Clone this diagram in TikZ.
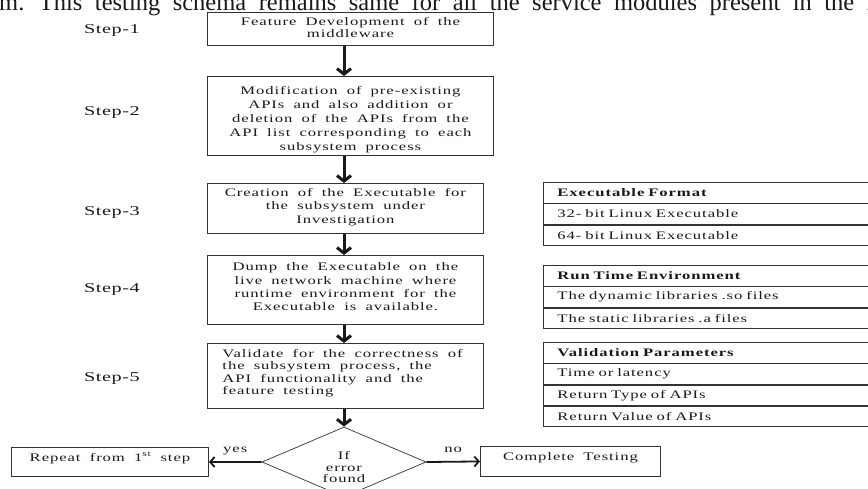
\documentclass[tikz,border=0pt]{standalone}
\usepackage{fontspec}
\setmainfont{Liberation Serif}
% widened serif faces used inside the flowchart
\newfontfamily\diafont[FakeStretch=1.45,LetterSpace=8,WordSpace=1.8]{Liberation Serif}
\newfontfamily\stepfont[FakeStretch=1.5,LetterSpace=4,WordSpace=1.5]{Liberation Serif}
\usetikzlibrary{arrows.meta,shapes.geometric}

% box body: width, height, top gap, baselineskip, text
\newcommand\boxbody[5]{\parbox[c][#2][t]{#1}{\fontsize{11.5}{#4}\selectfont\centering\vspace*{#3}#5\par}}
\newcommand\leftbody[5]{\parbox[c][#2][t]{#1}{\fontsize{11.5}{#4}\selectfont\raggedright\leftskip=15pt\vspace*{#3}#5\par}}

\begin{document}
\begin{tikzpicture}[x=1pt,y=-1pt,
  every node/.style={inner sep=0pt, text=black!90},
  procbox/.style={draw=black!80, line width=0.9pt, anchor=north west, font=\diafont},
  steplbl/.style={anchor=base west, font=\stepfont\fontsize{13.5}{15}\selectfont},
  rowbox/.style={draw=black!80, line width=0.8pt, anchor=north west, text width=310pt,
                 inner xsep=14pt, inner ysep=0pt, minimum height=20.5pt, align=left,
                 font=\diafont\fontsize{11.5}{13}\selectfont},
  flowarrow/.style={line width=3pt, -{Straight Barb[length=5.5pt,width=14pt]}, black!90},
  sidearrow/.style={line width=1.8pt, -{Straight Barb[length=4.5pt,width=10pt]}, black!90},
  arrowlbl/.style={anchor=base, yshift=9pt, font=\diafont\fontsize{11.5}{13}\selectfont}]
\useasboundingbox (0,0) rectangle (868,488);
\clip (0,0) rectangle (868,488);

% running text of the page above the figure
\node[anchor=base west, font=\fontsize{24.5}{28}\selectfont] (pagetext) at (-1,10.5)
  {\spaceskip=12.5pt m. This testing schema remains same for all the service modules present in the middleware};

% step labels
\node[steplbl] (l1) at (84,33)  {Step-1};
\node[steplbl] (l2) at (84,115) {Step-2};
\node[steplbl] (l3) at (84,215) {Step-3};
\node[steplbl] (l4) at (84,292) {Step-4};
\node[steplbl] (l5) at (84,381) {Step-5};

% process boxes
\node[procbox] (s1) at (207,12)
  {\boxbody{286pt}{33pt}{4.5pt}{12.5pt}{Feature Development of the\\ middleware}};
\node[procbox] (s2) at (207,76)
  {\boxbody{286pt}{79pt}{9.5pt}{14pt}{Modification of pre-existing\\ APIs and also addition or\\ deletion of the APIs from the\\ API list corresponding to each\\ subsystem process}};
\node[procbox] (s3) at (207,183)
  {\boxbody{276pt}{50pt}{4.5pt}{13.5pt}{Creation of the Executable for\\ the subsystem under\\ Investigation}};
\node[procbox] (s4) at (207,255)
  {\boxbody{276pt}{69pt}{7.5pt}{13.3pt}{Dump the Executable on the\\ live network machine where\\ runtime environment for the\\ Executable is available.}};
\node[procbox] (s5) at (207,343)
  {\leftbody{276pt}{65pt}{5.5pt}{12.5pt}{Validate for the correctness of\\ the subsystem process, the\\ API functionality and the\\ feature testing}};

% decision
\node[draw=black!80, line width=0.7pt, diamond, minimum width=164pt, minimum height=70pt] (dec) at (344,462) {};
\node[align=center, font=\diafont\fontsize{11.5}{12}\selectfont] (dectext) at (344,467) {If\\ error\\ found};

% outcome boxes
\node[procbox] (rep) at (11,447)
  {\boxbody{197pt}{29pt}{5pt}{13pt}{Repeat from 1\textsuperscript{st} step}};
\node[procbox] (done) at (480,446)
  {\boxbody{180pt}{30pt}{6.5pt}{13pt}{Complete Testing}};

% main flow
\draw[flowarrow] (s1.south -| dec) -- (s2.north -| dec);
\draw[flowarrow] (s2.south -| dec) -- (s3.north -| dec);
\draw[flowarrow] (s3.south -| dec) -- (s4.north -| dec);
\draw[flowarrow] (s4.south -| dec) -- (s5.north -| dec);
\draw[flowarrow] (s5.south -| dec) -- (dec.north);
\draw[sidearrow] (dec.west) -- node[arrowlbl] (yes) {yes} (rep.east);
\draw[sidearrow] (dec.east) -- node[arrowlbl] (no) {no} (done.west);

% side tables
\node[rowbox] (t1a) at (543,182) {\bfseries Executable Format};
\node[rowbox] (t1b) at (t1a.south west) {32- bit Linux Executable};
\node[rowbox] (t1c) at (t1b.south west) {64- bit Linux Executable};

\node[rowbox] (t2a) at (543,265) {\bfseries Run Time Environment};
\node[rowbox] (t2b) at (t2a.south west) {The dynamic libraries .so files};
\node[rowbox] (t2c) at (t2b.south west) {The static libraries .a files};

\node[rowbox] (t3a) at (543,342) {\bfseries Validation Parameters};
\node[rowbox] (t3b) at (t3a.south west) {Time or latency};
\node[rowbox] (t3c) at (t3b.south west) {Return Type of APIs};
\node[rowbox] (t3d) at (t3c.south west) {Return Value of APIs};
\end{tikzpicture}
\end{document}
